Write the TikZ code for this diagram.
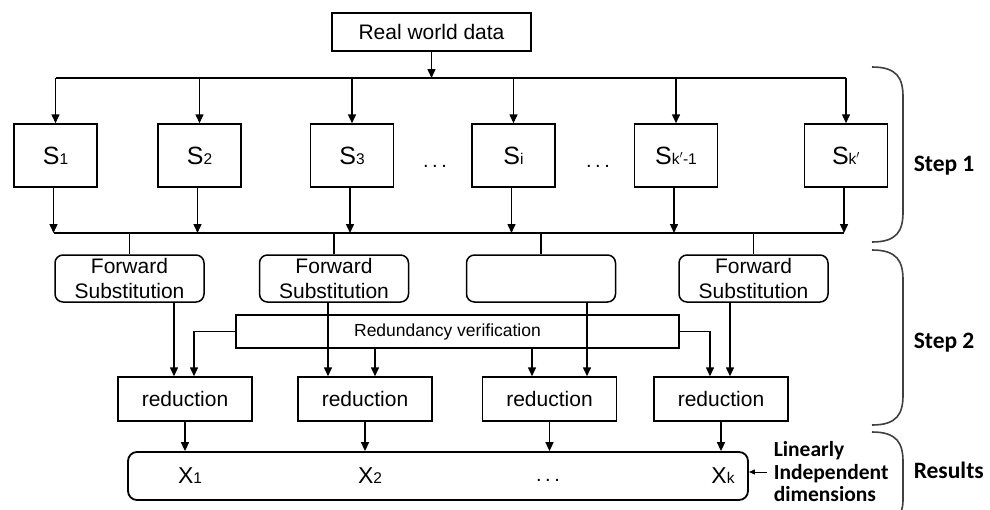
\documentclass[tikz,border=0pt]{standalone}
\usepackage{fontspec}
\setmainfont{Liberation Sans}
\newfontfamily\calfont{Carlito}
\usetikzlibrary{arrows.meta}
\newcommand\smsub[1]{{\fontsize{15.5}{15.5}\selectfont #1}}
\newcommand\bigS{{\fontsize{25}{25}\selectfont S}}
\newcommand\bigX{{\fontsize{23}{23}\selectfont X}}
\begin{document}
\begin{tikzpicture}[x=1pt,y=-1pt,line width=1.5pt,
  >={Triangle[length=9pt,width=8pt]},
  box/.style={draw,inner sep=0pt,font=\fontsize{21}{25}\selectfont},
  sbox/.style={box,minimum width=83pt,minimum height=63pt},
  fsbox/.style={box,rounded corners=8pt,minimum width=149pt,minimum height=47pt,align=center},
  redbox/.style={box,minimum width=134pt,minimum height=44pt},
  steplabel/.style={anchor=west,inner sep=0pt,font=\calfont\bfseries\fontsize{23.5}{23.5}\selectfont},
  dots/.style={inner sep=0pt,font=\fontsize{20}{20}\selectfont},
  brace/.style={line width=1.6pt,draw=black!75}]
\useasboundingbox (0,0) rectangle (990,509);
\fill[white] (0,0) rectangle (990,509);

% top
\node[box,minimum width=199pt,minimum height=38pt,font=\fontsize{21}{21}\selectfont] (rwd) at (431.5,32) {Real world data};
\coordinate (tb) at (0,78);
\coordinate (lb) at (0,233);

% S boxes
\node[sbox] (s1) at (55.5,155.5) {\bigS\smsub{1}};
\node[sbox] (s2) at (199.5,155.5) {\bigS\smsub{2}};
\node[sbox] (s3) at (352,155.5) {\bigS\smsub{3}};
\node[sbox] (si) at (513.5,155.5) {\bigS\smsub{i}};
\node[sbox] (sk1) at (676,155.5) {\bigS\smsub{k$'$-1}};
\node[sbox] (sk) at (846,155.5) {\bigS\smsub{k$'$}};
\node[dots] (d1) at (435,166) {.\hspace{3.5pt}.\hspace{3.5pt}.};
\node[dots] (d2) at (598,166) {.\hspace{3.5pt}.\hspace{3.5pt}.};

\draw[->] (rwd.south) -- (rwd.south |- tb);
\draw (s1.north |- tb) -- (sk.north |- tb);
\draw ([xshift=-2pt]s1.south |- lb) -- ([xshift=-2pt]sk.south |- lb);
\foreach \s in {s1,s2,s3,si,sk1,sk} {
  \draw[->] (\s.north |- tb) -- (\s.north);
  \draw[->] ([xshift=-2pt]\s.south) -- ([xshift=-2pt]\s.south |- lb);
}

% forward substitution
\node[fsbox] (fs1) at (129.5,278.5) {Forward\\Substitution};
\node[fsbox] (fs2) at (334,278.5) {Forward\\Substitution};
\node[fsbox] (fs3) at (541,278.5) {};
\node[fsbox] (fs4) at (753.5,278.5) {Forward\\Substitution};
\foreach \f in {fs1,fs2,fs3,fs4} \draw (\f.north |- lb) -- (\f.north);

% redundancy verification
\node[box,minimum width=443pt,minimum height=33pt,font=\fontsize{17.5}{17.5}\selectfont] (rv) at (457.5,331.5) {\hspace*{-20pt}Redundancy verification};

% reductions
\node[redbox] (r1) at (185,399) {reduction};
\node[redbox] (r2) at (365,399) {reduction};
\node[redbox] (r3) at (549.5,399) {reduction};
\node[redbox] (r4) at (721,399) {reduction};

\draw[->] ([xshift=-11pt]r1.north |- fs1.south) -- ([xshift=-11pt]r1.north);
\draw[->] (rv.west) -| ([xshift=9pt]r1.north);
\draw[->] ([xshift=-37pt]r2.north |- fs2.south) -- ([xshift=-37pt]r2.north);
\draw[->] ([xshift=10pt]r2.north |- rv.south) -- ([xshift=10pt]r2.north);
\draw[->] ([xshift=-17.5pt]r3.north |- rv.south) -- ([xshift=-17.5pt]r3.north);
\draw[->] ([xshift=37.5pt]r3.north |- fs3.south) -- ([xshift=37.5pt]r3.north);
\draw[->] (rv.east) -| ([xshift=-11pt]r4.north);
\draw[->] ([xshift=9pt]r4.north |- fs4.south) -- ([xshift=9pt]r4.north);

% results
\node[draw,line width=1.8pt,rounded corners=9pt,inner sep=0pt,minimum width=620pt,minimum height=48pt] (res) at (438,476) {};
\foreach \r in {r1,r2,r3,r4} \draw[->] (\r.south) -- (\r.south |- res.north);
\node[inner sep=0pt] (x1) at (190,476) {\bigX\smsub{1}};
\node[inner sep=0pt] (x2) at (370,476) {\bigX\smsub{2}};
\node[dots] (xd) at (548,480) {.\hspace{3.5pt}.\hspace{3.5pt}.};
\node[inner sep=0pt] (xk) at (723,476) {\bigX\smsub{k}};

\node[anchor=west,inner sep=0pt,align=left,font=\calfont\bfseries\fontsize{21.5}{22.5}\selectfont] (lid) at (773,472) {Linearly\\Independent\\dimensions};
\draw[-{Triangle[length=6pt,width=5pt]},line width=1pt] ([xshift=-6pt]lid.west) -- (res.east |- lid.west);

% braces and step labels
\draw[brace] (872,67) .. controls (897,67) and (903,78) .. (903,97) -- (903,212) .. controls (903,231) and (897,242) .. (872,242);
\draw[brace] (872,250) .. controls (897,250) and (903,261) .. (903,280) -- (903,395) .. controls (903,414) and (897,425) .. (872,425);
\draw[brace] (872,432) .. controls (897,432) and (903,443) .. (903,462) -- (903,500) .. controls (903,510) and (900,515) .. (895,520);
\node[steplabel] (st1) at (913,166) {Step 1};
\node[steplabel] (st2) at (913,343) {Step 2};
\node[steplabel] (st3) at (913,470) {Results};
\end{tikzpicture}
\end{document}
